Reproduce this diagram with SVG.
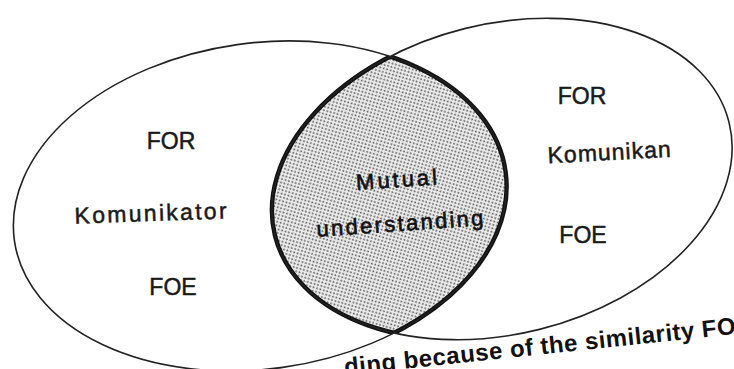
<svg xmlns="http://www.w3.org/2000/svg" xmlns:xlink="http://www.w3.org/1999/xlink" width="734" height="369" viewBox="0 0 734 369">
  <style>
    .outline { fill: none; stroke: #222; stroke-width: 1.6; }
    .lensline { fill: none; stroke: #111; stroke-width: 4.4; }
    .lbl { font-family: "Liberation Sans", Arial, sans-serif; font-size: 23px; fill: #1a1a1a; stroke: #1a1a1a; stroke-width: 0.5; text-anchor: middle; }
    .mu { font-family: "Liberation Sans", Arial, sans-serif; font-size: 22px; fill: #111; stroke: #111; stroke-width: 0.6; text-anchor: middle; }
    .cap { font-family: "Liberation Sans", Arial, sans-serif; font-size: 24px; font-weight: bold; fill: #111; }
  </style>
  <defs>
    <ellipse id="shapeL" cx="260" cy="206" rx="248" ry="163" transform="rotate(-8 260 206)"/>
    <ellipse id="shapeR" cx="502" cy="179" rx="234" ry="155" transform="rotate(-14 502 179)"/>
    <clipPath id="clipL"><use xlink:href="#shapeL"/></clipPath>
    <clipPath id="clipR"><use xlink:href="#shapeR"/></clipPath>
    <pattern id="dots" width="5" height="5" patternUnits="userSpaceOnUse" patternTransform="rotate(-15)">
      <rect width="5" height="5" fill="#eeeeee"/>
      <circle cx="1.2" cy="1.2" r="0.95" fill="#5a5a5a"/>
      <circle cx="3.7" cy="3.7" r="0.95" fill="#5a5a5a"/>
    </pattern>
  </defs>
  <rect width="734" height="369" fill="#ffffff"/>

  <g id="lens-mutual-understanding">
    <g clip-path="url(#clipL)">
      <use xlink:href="#shapeR" fill="url(#dots)"/>
      <use xlink:href="#shapeR" class="lensline"/>
    </g>
    <g clip-path="url(#clipR)">
      <use xlink:href="#shapeL" class="lensline"/>
    </g>
    <g transform="rotate(-4 400 208)">
      <text class="mu" x="400" y="187" letter-spacing="3">Mutual</text>
      <text class="mu" x="400" y="231" letter-spacing="2.3">understanding</text>
    </g>
  </g>

  <g id="komunikator">
    <use xlink:href="#shapeL" class="outline"/>
    <text class="lbl" x="171" y="149">FOR</text>
    <text class="lbl" x="152" y="221" letter-spacing="2.3" transform="rotate(-2 152 221)">Komunikator</text>
    <text class="lbl" x="173" y="295">FOE</text>
  </g>

  <g id="komunikan">
    <use xlink:href="#shapeR" class="outline"/>
    <text class="lbl" x="582" y="104">FOR</text>
    <text class="lbl" x="610" y="160" letter-spacing="1" transform="rotate(-3 610 160)">Komunikan</text>
    <text class="lbl" x="583" y="243">FOE</text>
  </g>

  <g id="connectors"></g>

  <g id="caption">
    <text class="cap" x="345" y="375" letter-spacing="0.5" transform="rotate(-6 345 375)">ding because of the similarity FO</text>
  </g>
</svg>
